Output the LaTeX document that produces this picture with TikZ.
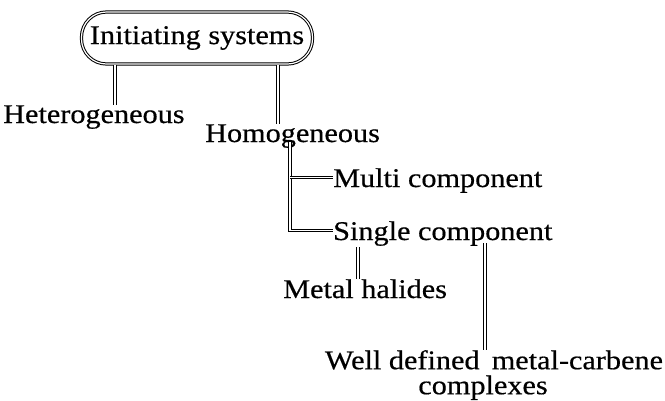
\documentclass[tikz,border=0pt]{standalone}
\usepackage{fontspec}
\setmainfont{Liberation Serif}[FakeStretch=1.12, FakeBold=0.5]
\usepackage{tikz}

\begin{document}
\begin{tikzpicture}[x=1pt, y=-1pt,
        lbl/.style={inner sep=0pt, anchor=base west, text depth=0pt, font=\fontsize{27}{25}\selectfont},
        link/.style={line width=3.2pt, postaction={draw=white, line width=1.2pt}}]
            \useasboundingbox (0,0) rectangle (665,400);
            \node[draw=black, double=white, double distance=1.2pt, line width=1pt, rounded corners=25pt,
                  minimum width=231pt, minimum height=52pt, inner sep=0pt,
                  font=\fontsize{27}{25}\selectfont] (sys) at (197,38) {Initiating systems};
            \node[lbl] (het) at (3,123) {Heterogeneous};
            \node[lbl] (hom) at (205,142) {Homogeneous};
            \node[lbl] (multi) at (333,187) {Multi component};
            \node[lbl] (single) at (333,240) {Single component};
            \node[lbl] (halide) at (283,298) {Metal halides};
            \node[lbl, anchor=north, align=center] (carbene) at (494,350) {Well defined\hspace{0.45em}metal-carbene\\complexes\hspace*{22pt}};
            \coordinate (hx) at (115,0);
            \coordinate (mx) at (278,0);
            \coordinate (bx) at (290,0);
            \coordinate (lx) at (358,0);
            \coordinate (cx) at (485,0);
            \draw[link] (sys.south -| hx) -- (het.north -| hx);
            \draw[link] (sys.south -| mx) -- (hom.north -| mx);
            \draw[link] (hom.south -| bx) |- (single.west);
            \draw[link] (multi.west -| bx) -- (multi.west);
            \draw[link, shorten <=7pt] (single.south -| lx) -- (halide.north -| lx);
            \draw[link, shorten <=3pt] (single.south -| cx) -- (carbene.north -| cx);
        \end{tikzpicture}
\end{document}
